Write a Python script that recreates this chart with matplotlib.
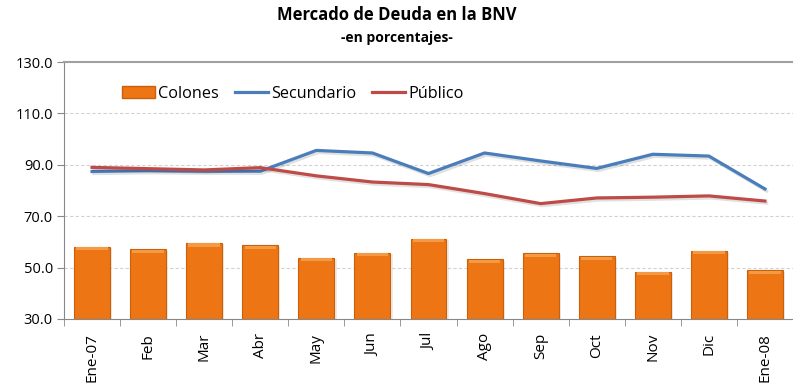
import numpy as np
import matplotlib.pyplot as plt
import matplotlib.patheffects as pe
from matplotlib.patches import Patch
from matplotlib.lines import Line2D

plt.rcParams['font.family'] = ['Open Sans', 'DejaVu Sans']

meses = ['Ene-07', 'Feb', 'Mar', 'Abr', 'May', 'Jun', 'Jul', 'Ago', 'Sep',
         'Oct', 'Nov', 'Dic', 'Ene-08']
colones = [58.1, 57.2, 59.6, 58.7, 53.8, 55.8, 61.3, 53.3, 55.5, 54.5, 48.4, 56.5, 49.0]
secundario = [87.4, 87.7, 87.5, 87.5, 95.6, 94.6, 86.6, 94.6, 91.5, 88.6, 94.1, 93.4, 80.6]
publico = [89.0, 88.5, 88.0, 88.9, 85.7, 83.3, 82.3, 78.8, 74.9, 77.1, 77.4, 77.9, 75.9]

x = np.arange(len(meses))
base = 30.0

fig = plt.figure(figsize=(7.93, 3.90), dpi=100)
ax = fig.add_axes([64 / 793, 71 / 390, 729 / 793, 257 / 390])

# barras con sombra y brillo superior
ax.bar(x + 0.04, np.array(colones) - base - 0.6, bottom=base, width=0.64,
       color='#c8c8c8', alpha=0.35, zorder=1)
ax.bar(x, np.array(colones) - base, bottom=base, width=0.64,
       color='#EE7513', edgecolor='#C9600C', linewidth=0.8, zorder=2)
ax.bar(x, 1.2, bottom=np.array(colones) - 1.4, width=0.56,
       color='#F49A45', linewidth=0, zorder=3)

sombra = [pe.SimpleLineShadow(offset=(1.2, -1.5), alpha=0.12), pe.Normal()]
ax.plot(x, secundario, color='#4A7EBB', lw=2.3, zorder=4, path_effects=sombra)
ax.plot(x, publico, color='#BE4B48', lw=2.3, zorder=4, path_effects=sombra)

ax.set_ylim(30, 130)
ax.set_yticks([30, 50, 70, 90, 110, 130])
ax.set_yticklabels([f'{v:.1f}' for v in [30, 50, 70, 90, 110, 130]], fontsize=10.5)
ax.set_xlim(-0.5, 12.37)
ax.set_xticks(x)
ax.set_xticklabels(meses, rotation=90, fontsize=11)
ax.tick_params(axis='x', length=0, pad=10)
ax.set_xticks(np.arange(-0.5, 13, 1), minor=True)
ax.tick_params(axis='x', which='minor', length=5, color='#888888')
ax.tick_params(axis='y', length=5, color='#888888', pad=3)

for v in [50, 70, 90, 110]:
    ax.axhline(v, color='#d2d2d2', lw=0.8, ls=(0, (3, 2)), zorder=0)
ax.spines['right'].set_visible(False)
ax.spines['top'].set_color('#a0a0a0')
ax.spines['top'].set_linewidth(1.5)
ax.spines['left'].set_color('#888888')
ax.spines['bottom'].set_color('#888888')

handles = [Patch(facecolor='#EE7513', edgecolor='#C9600C'),
           Line2D([], [], color='#4A7EBB', lw=2.3),
           Line2D([], [], color='#BE4B48', lw=2.3)]
ax.legend(handles, ['Colones', 'Secundario', 'Público'], ncol=3, frameon=False,
          loc='upper left', bbox_to_anchor=(0.06, 0.965), fontsize=11.7,
          handlelength=2.0, handletextpad=0.2, columnspacing=1.0)

fig.text(0.5, 1 - 15 / 390, 'Mercado de Deuda en la BNV', ha='center', va='center',
         fontsize=12, fontweight='bold')
fig.text(0.5, 1 - 38 / 390, '-en porcentajes-', ha='center', va='center',
         fontsize=10, fontweight='bold')

fig.savefig('out.png', dpi=100)
